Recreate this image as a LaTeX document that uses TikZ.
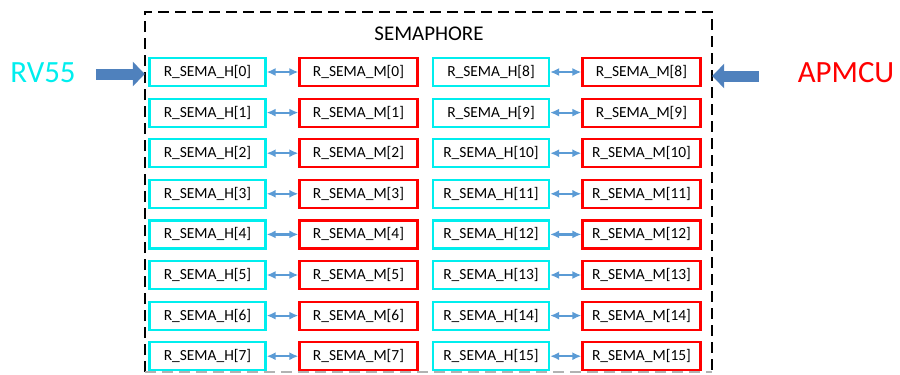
\documentclass[tikz,border=0pt]{standalone}
\usepackage{fontspec}
\setmainfont{Carlito}
\usetikzlibrary{arrows.meta, positioning, calc}
\definecolor{hcyan}{RGB}{0,238,238}
\definecolor{mred}{RGB}{255,0,0}
\definecolor{linkblue}{RGB}{91,155,213}
\definecolor{bigblue}{RGB}{79,129,189}

\begin{document}
\begin{tikzpicture}[
    x=1bp, y=-1bp,
    reg/.style={draw, line width=2.2bp, fill=white, minimum height=28bp, inner sep=0pt, font=\fontsize{15.5}{18}\selectfont},
    hreg/.style={reg, draw=hcyan, minimum width=116bp},
    mreg/.style={reg, draw=mred, minimum width=118bp},
    link/.style={{Latex[length=9bp,width=8bp]}-{Latex[length=9bp,width=8bp]}, linkblue, line width=2.2bp},
    bigarrow/.style={-{Triangle[length=12bp,width=24bp]}, line width=11bp, bigblue},
    framedash/.style={line width=2.2bp, dash pattern=on 11bp off 6bp},
    tag/.style={inner sep=0pt, font=\fontsize{31}{36}\selectfont}
]
\useasboundingbox (0,0) rectangle (900,374);

% Semaphore frame
\node[minimum width=567bp, minimum height=360bp, inner sep=0pt] (sema) at (428.5,192) {};
\draw[framedash] (sema.south west) |- (sema.north east) -- (sema.south east);
\draw[framedash, gray!60] (sema.south west) -- (sema.south east);
\node[font=\fontsize{21}{25}\selectfont] (title) at (429,34) {SEMAPHORE};

% Register pairs
\foreach \i in {0,...,7}{
    \pgfmathsetmacro{\yy}{72+40.6*\i}
    \pgfmathtruncatemacro{\j}{\i+8}
    \node[hreg] (h\i) at (207.5,\yy) {R\_SEMA\_H[\i]};
    \node[mreg] (m\i) at (358.5,\yy) {R\_SEMA\_M[\i]};
    \node[hreg] (h\j) at (491,\yy) {R\_SEMA\_H[\j]};
    \node[mreg] (m\j) at (641.5,\yy) {R\_SEMA\_M[\j]};
    \draw[link] (h\i) -- (m\i);
    \draw[link] (h\j) -- (m\j);
}

% Masters
\node[tag, text=hcyan] (rv) at (43,73) {RV55};
\node[tag, text=mred] (ap) at (846,73) {APMCU};

\draw[bigarrow] ($(rv.east)+(20,1)$) coordinate (rvtail) -- (rvtail -| sema.west);
\draw[bigarrow] ($(ap.west)+(-39,3)$) coordinate (aptail) -- (aptail -| sema.east);

\end{tikzpicture}
\end{document}
